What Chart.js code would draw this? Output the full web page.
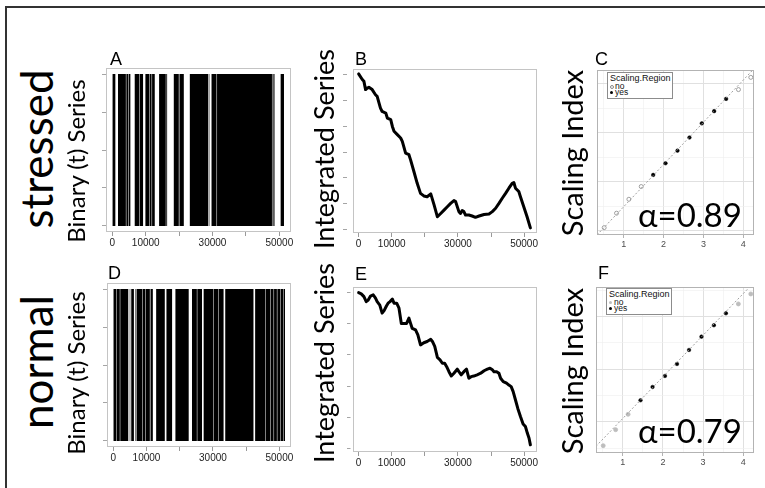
<!DOCTYPE html>
<html><head><meta charset="utf-8">
<script src="https://cdn.jsdelivr.net/npm/chart.js@4"></script>
<style>
html,body{margin:0;padding:0;background:#fff;}
#fig{position:relative;width:765px;height:488px;overflow:hidden;background:#fff;font-family:Lato,"Open Sans",sans-serif;color:#000;}
.frame{position:absolute;left:5px;top:6px;width:900px;height:700px;border-left:2px solid #333;border-top:2px solid #333;}
canvas{position:absolute;}
.rot{position:absolute;white-space:nowrap;transform:translate(-50%,-50%) rotate(-90deg);line-height:1;}
.lab{position:absolute;white-space:nowrap;line-height:1;}
.pl{font-family:"Liberation Sans",Arial,sans-serif;font-size:18px;}
.alpha{font-size:33px;}
.legend{position:absolute;width:64px;height:25px;border:1px solid #8c8c8c;background:#fff;font-family:"Liberation Sans",Arial,sans-serif;font-size:8.5px;line-height:7px;color:#111;}
.legend .t{position:absolute;left:2px;top:1px;font-size:9px;line-height:9px;}
.legend .e{position:absolute;left:7px;}
.legend .m{position:absolute;left:2px;width:3px;height:3px;border-radius:50%;}
</style></head>
<body><div id="fig">
<div class="frame"></div>
<canvas id="cA"></canvas><canvas id="cB"></canvas><canvas id="cC"></canvas>
<canvas id="cD"></canvas><canvas id="cE"></canvas><canvas id="cF"></canvas>

<div class="rot" style="left:36px;top:149px;font-size:44px;">stressed</div>
<div class="rot" style="left:36px;top:362px;font-size:44px;">normal</div>
<div class="rot" style="left:76px;top:161px;font-size:24px;">Binary (t) Series</div>
<div class="rot" style="left:76px;top:373px;font-size:24px;">Binary (t) Series</div>
<div class="rot" style="left:323px;top:149px;font-size:27px;">Integrated Series</div>
<div class="rot" style="left:323px;top:363px;font-size:27px;">Integrated Series</div>
<div class="rot" style="left:571px;top:153px;font-size:29px;">Scaling Index</div>
<div class="rot" style="left:571px;top:371px;font-size:29px;">Scaling Index</div>

<div class="lab pl" style="left:110px;top:50px;">A</div>
<div class="lab pl" style="left:355px;top:50px;">B</div>
<div class="lab pl" style="left:595px;top:50px;">C</div>
<div class="lab pl" style="left:108px;top:264px;">D</div>
<div class="lab pl" style="left:355px;top:265px;">E</div>
<div class="lab pl" style="left:598px;top:264px;">F</div>

<div class="lab alpha" style="left:638px;top:198px;">α=0.89</div>
<div class="lab alpha" style="left:638px;top:414px;">α=0.79</div>

<div class="legend" style="left:607px;top:72px;">
  <div class="t">Scaling.Region</div>
  <div class="m" style="top:12px;border:0.8px solid #888;width:2px;height:2px;background:#fff;"></div><div class="e" style="top:10px;">no</div>
  <div class="m" style="top:18px;background:#000;"></div><div class="e" style="top:16px;">yes</div>
</div>
<div class="legend" style="left:606px;top:288px;">
  <div class="t">Scaling.Region</div>
  <div class="m" style="top:12px;background:#bdbdbd;"></div><div class="e" style="top:10px;">no</div>
  <div class="m" style="top:18px;background:#000;"></div><div class="e" style="top:16px;">yes</div>
</div>
</div>
<script>
// ---------- data ----------
const timeTicks = [0, 10000, 20000, 30000, 40000, 50000];
const timeTickLabels = ['0', '10000', '', '30000', '', '50000'];
const binaryTicks = [0, 0.25, 0.5, 0.75, 1];

// runs of consecutive 1s (start, end) in the binary series
const stressedRuns = [[0,900],[1700,4050],[4200,4750],[4900,5400],[6700,8000],[8150,9200],
  [9900,11050],[11200,11750],[11900,12700],[14000,16000],[16150,16400],[18400,19900],[20100,21400],
  [23200,28700],[28900,29050],[29700,31200],[31350,47800],[47950,48300],[48500,48650],[50400,51400]];
const normalRuns = [[0,950],[1100,1950],[2100,4500],[4950,5100],[5400,6200],[6550,6700],
  [7000,8650],[8800,9650],[9800,11000],[11200,11900],[12900,15500],[16000,17700],[18700,22700],
  [23700,25150],[25300,26700],[27200,30150],[30300,31650],[31800,33200],[33700,42200],
  [42700,45750],[45900,47250],[47400,48250],[48400,49250],[49400,50250],[50400,51250],[51400,51700]];

const integratedTimeStressed = [0,1100,1600,2100,2600,3100,4100,5100,5600,6600,7100,8200,8700,9700,10200,10700,11700,12700,13200,14200,15200,15700,16700,17700,18700,19700,20700,21800,22800,23800,24800,25800,26800,27800,28800,29300,30300,30800,31300,31800,32300,33300,34300,35300,36400,37900,39400,40400,41400,42400,43400,44400,45400,46400,46900,47400,48400,48900,49900,50900,51900];
const integratedStressed = [604,582,575,543,549,552,543,523,517,471,458,452,432,426,400,381,368,355,342,296,290,270,225,179,140,130,127,138,95,49,62,75,88,101,112,108,69,62,73,69,56,56,52,47,52,58,60,69,82,101,121,140,160,179,182,160,147,127,88,49,6];
const integratedTicksStressed = [0,100,200,300,400,500,600];

const integratedTimeNormal = [0,800,1600,2300,2900,3600,4400,5100,5600,6400,7100,7700,8400,8900,9500,10200,10700,11500,12200,12900,13700,14500,15200,15700,16200,17200,17900,18700,19700,20700,21800,22300,23000,23800,24600,25300,26000,26600,27300,28000,28800,29800,30300,31000,31800,32600,33300,34000,34800,35800,36900,37900,38900,39700,40400,40900,41700,42400,42900,43700,44700,45400,46100,46700,47400,48100,48900,49700,50400,51000,51500,51900];
const integratedNormal = [500,496,487,471,476,489,493,482,471,460,434,442,457,466,471,479,466,466,450,401,401,401,418,401,385,380,364,332,339,343,350,343,327,292,284,273,273,262,246,232,241,254,246,236,246,254,225,230,232,236,241,249,254,257,252,246,246,241,225,214,209,203,198,182,155,128,102,78,70,48,32,11];
const integratedTicksNormal = [0,100,200,300,400,500];

// fluctuation analysis (log10 scale vs log10 fluctuation)
const logScale = [0.51,0.82,1.13,1.44,1.74,2.05,2.35,2.65,2.96,3.27,3.57,3.88,4.19];
const logFluctStressed = [-0.94,-0.645,-0.36,-0.10,0.137,0.375,0.633,0.90,1.19,1.44,1.69,1.88,2.13];
const logFluctNormal = [-0.456,-0.152,0.14,0.407,0.66,0.869,1.097,1.363,1.616,1.833,2.06,2.238,2.428];
const regionStressed = ['no','no','no','no','yes','yes','yes','yes','yes','yes','yes','no','no'];
const regionNormal = ['no','no','no','yes','yes','yes','yes','yes','yes','yes','yes','no','no'];
const fitStressed = {slope: 0.862, intercept: -1.374};
const fitNormal = {slope: 0.79, intercept: -0.727};
const scaleGridX = [0.5,1,1.5,2,2.5,3,3.5,4];
const scaleLabelsX = [1,2,3,4];
const fluctGridStressed = [-1,-0.5,0,0.5,1,1.5,2];
const fluctGridNormal = [-0.5,0,0.5,1,1.5,2,2.5];

// ---------- helpers ----------
const PAD = {left: 30, top: 6, right: 10, bottom: 24};
const XH = 22; // height reserved for the x axis labels
const boxPlugin = {
  id: 'boxBorder',
  afterDatasetsDraw(chart, args, opts) {
    const a = chart.chartArea, c = chart.ctx;
    c.save(); c.strokeStyle = opts.color || '#bbb'; c.lineWidth = 1;
    c.strokeRect(Math.round(a.left) + 0.5, Math.round(a.top) + 0.5, Math.round(a.right - a.left) - 1, Math.round(a.bottom - a.top) - 1);
    c.restore();
  }
};
function makeChart(id, box, config, boxColor) {
  const cv = document.getElementById(id);
  const w = box.r - box.l + PAD.left + PAD.right, h = box.b - box.t + PAD.top + PAD.bottom;
  cv.width = w; cv.height = h; cv.style.width = w + 'px'; cv.style.height = h + 'px';
  cv.style.left = (box.l - PAD.left) + 'px'; cv.style.top = (box.t - PAD.top) + 'px';
  config.options = Object.assign({
    responsive: false, animation: false, devicePixelRatio: 1,
    layout: {padding: {left: PAD.left, top: PAD.top, right: PAD.right, bottom: PAD.bottom - XH}, autoPadding: false},
  }, config.options);
  config.options.plugins = Object.assign({legend: {display: false}, tooltip: {enabled: false}, boxBorder: {color: boxColor}}, config.options.plugins || {});
  config.plugins = [boxPlugin];
  return new Chart(cv, config);
}
function runsToSteps(runs) {
  const pts = [];
  runs.forEach(([s, e]) => { pts.push({x: s, y: 1}); pts.push({x: e, y: 0}); });
  return pts;
}
function timeScale(min, max) {
  return {
    type: 'linear', min, max,
    afterFit: s => { s.height = XH; },
    afterBuildTicks: s => { s.ticks = timeTicks.map(v => ({value: v})); },
    ticks: {autoSkip: false, maxRotation: 0, minRotation: 0, padding: 1, color: '#222',
      font: {family: 'Liberation Sans', size: 10}, callback: (v, i) => timeTickLabels[i]},
    grid: {drawOnChartArea: false, drawTicks: true, tickLength: 4, color: '#9a9a9a'},
    border: {display: false}
  };
}
function valueScale(min, max, tickVals, tl, dash) {
  return {
    type: 'linear', min, max,
    afterFit: s => { s.width = 0; },
    afterBuildTicks: s => { s.ticks = tickVals.map(v => ({value: v})); },
    ticks: {display: false},
    grid: {drawOnChartArea: false, drawTicks: true, tickLength: tl, color: '#a5a5a5', tickBorderDash: dash || []},
    border: {display: false}
  };
}
function binaryChart(id, box, runs) {
  return makeChart(id, box, {
    type: 'line',
    data: {datasets: [{data: runsToSteps(runs), stepped: 'before', fill: 'origin',
      backgroundColor: '#000', borderWidth: 0, pointRadius: 0, tension: 0}]},
    options: {scales: {x: timeScale(-1900, 53500), y: valueScale(-0.04, 1.04, binaryTicks, 4)}}
  }, '#c4c4c4');
}
function integratedChart(id, box, xs, ys, ticks, ymin, ymax, tl, dash) {
  return makeChart(id, box, {
    type: 'line',
    data: {datasets: [{data: xs.map((x, i) => ({x, y: ys[i]})), borderColor: '#000', borderWidth: 3,
      pointRadius: 0, tension: 0, fill: false, borderJoinStyle: 'round', borderCapStyle: 'round'}]},
    options: {scales: {x: timeScale(-1700, 53900), y: valueScale(ymin, ymax, ticks, tl, dash)}}
  }, '#c4c4c4');
}
function isMinor(v) { return Math.abs(v - Math.round(v)) > 1e-6; }
function scalingChart(id, box, ys, region, fit, gridY, ymin, ymax, noStyle) {
  const xmin = 0.33, xmax = 4.27;
  const sel = r => logScale.map((x, i) => ({x, y: ys[i], r: region[i]})).filter(p => p.r === r).map(p => ({x: p.x, y: p.y}));
  return makeChart(id, box, {
    type: 'scatter',
    data: {datasets: [
      {type: 'line', data: [{x: xmin, y: fit.intercept + fit.slope * xmin}, {x: xmax, y: fit.intercept + fit.slope * xmax}],
        borderColor: '#a0a0a0', borderWidth: 1, borderDash: [2, 2], pointRadius: 0, fill: false, showLine: true},
      {data: sel('no'), pointRadius: 2, pointBackgroundColor: noStyle.fill, pointBorderColor: noStyle.stroke, pointBorderWidth: 0.8},
      {data: sel('yes'), pointRadius: 1.8, pointBackgroundColor: '#000', pointBorderColor: '#000', pointBorderWidth: 0.5}
    ]},
    options: {scales: {
      x: {type: 'linear', min: xmin, max: xmax,
        afterFit: s => { s.height = XH; },
        afterBuildTicks: s => { s.ticks = scaleGridX.map(v => ({value: v})); },
        ticks: {autoSkip: false, maxRotation: 0, padding: 1, color: '#4d4d4d', font: {family: 'Liberation Sans', size: 9},
          callback: v => scaleLabelsX.includes(v) ? String(v) : ''},
        grid: {drawOnChartArea: true, drawTicks: true, tickLength: 3,
          color: c => isMinor(c.tick.value) ? '#eeeeee' : '#e0e0e0',
          lineWidth: c => isMinor(c.tick.value) ? 0.6 : 1,
          tickColor: c => isMinor(c.tick.value) ? 'rgba(0,0,0,0)' : '#b3b3b3'},
        border: {display: false}},
      y: {type: 'linear', min: ymin, max: ymax,
        afterFit: s => { s.width = 0; },
        afterBuildTicks: s => { s.ticks = gridY.map(v => ({value: v})); },
        ticks: {display: false},
        grid: {drawOnChartArea: true, drawTicks: false,
          color: c => isMinor(c.tick.value) ? '#eeeeee' : '#e0e0e0',
          lineWidth: c => isMinor(c.tick.value) ? 0.6 : 1},
        border: {display: false}}
    }}
  }, '#b3b3b3');
}

// ---------- charts ----------
binaryChart('cA', {l: 106, t: 68, r: 291, b: 232}, stressedRuns);
binaryChart('cD', {l: 107, t: 283, r: 291, b: 447}, normalRuns);
integratedChart('cB', {l: 353, t: 69, r: 537, b: 233}, integratedTimeStressed, integratedStressed, integratedTicksStressed, -14, 623, 10, [4, 20]);
integratedChart('cE', {l: 353, t: 287, r: 537, b: 452}, integratedTimeNormal, integratedNormal, integratedTicksNormal, -12, 518, 6, [3.5, 20]);
scalingChart('cC', {l: 597, t: 70, r: 754, b: 235}, logFluctStressed, regionStressed, fitStressed, fluctGridStressed, -1.09, 2.28, {fill: '#fff', stroke: '#8a8a8a'});
scalingChart('cF', {l: 596, t: 287, r: 754, b: 453}, logFluctNormal, regionNormal, fitNormal, fluctGridNormal, -0.595, 2.56, {fill: '#bdbdbd', stroke: '#bdbdbd'});
</script>
</body></html>
